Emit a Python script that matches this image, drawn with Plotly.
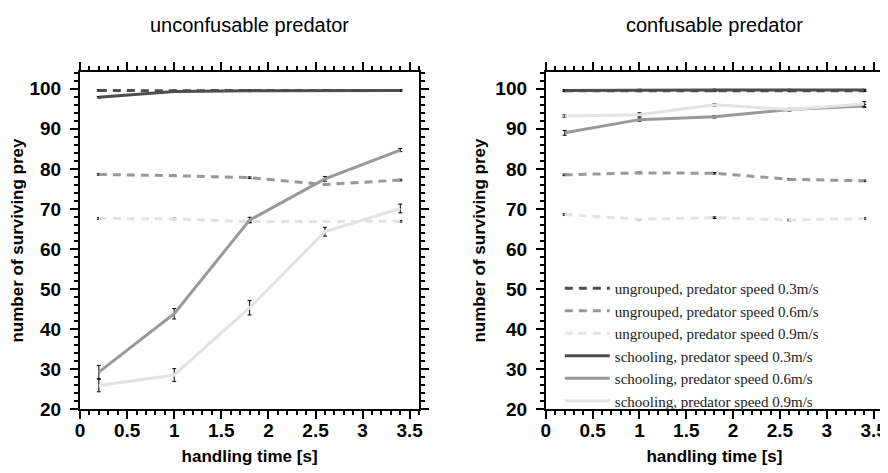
import plotly.graph_objects as go
from plotly.subplots import make_subplots

# handling time [s]
handling = [0.2, 1.0, 1.8, 2.6, 3.4]

# unconfusable predator (left)
unc_ungrouped_03 = [99.6, 99.5, 99.6, 99.6, 99.6]
unc_ungrouped_06 = [78.6, 78.3, 77.8, 76.1, 77.2]
unc_ungrouped_09 = [67.6, 67.5, 66.8, 66.8, 66.9]
unc_school_03 = [97.9, 99.3, 99.5, 99.6, 99.6]
unc_school_06 = [29.2, 43.8, 67.2, 77.5, 84.7]
unc_school_09 = [25.9, 28.5, 45.3, 64.3, 70.1]
unc_err_ungrouped = [0.2, 0.2, 0.2, 0.2, 0.2]
unc_err_school_03 = [0.2, 0.2, 0.2, 0.2, 0.2]
unc_err_school_06 = [1.7, 1.3, 0.7, 0.6, 0.4]
unc_err_school_09 = [1.6, 1.6, 1.8, 1.1, 1.1]

# confusable predator (right)
con_ungrouped_03 = [99.5, 99.5, 99.5, 99.5, 99.5]
con_ungrouped_06 = [78.5, 79.0, 78.9, 77.4, 77.0]
con_ungrouped_09 = [68.6, 67.4, 67.8, 67.2, 67.6]
con_school_03 = [99.6, 99.7, 99.7, 99.7, 99.7]
con_school_06 = [89.0, 92.3, 93.0, 94.8, 95.7]
con_school_09 = [93.2, 93.5, 96.0, 94.8, 96.2]
con_err_ungrouped = [0.2, 0.2, 0.2, 0.2, 0.2]
con_err_school_03 = [0.2, 0.2, 0.2, 0.2, 0.2]
con_err_school_06 = [0.6, 0.4, 0.3, 0.3, 0.4]
con_err_school_09 = [0.3, 0.5, 0.3, 0.3, 0.6]

names = ["ungrouped, predator speed 0.3m/s", "ungrouped, predator speed 0.6m/s",
         "ungrouped, predator speed 0.9m/s", "schooling, predator speed 0.3m/s",
         "schooling, predator speed 0.6m/s", "schooling, predator speed 0.9m/s"]
greys = ["#4d4d4d", "#999999", "#e3e3e3"]

# page body adds 8px offset, so figure is 880x465 and margins are in figure px
W, H = 880, 465
ML, MR, MT, MB = 70, 5, 64, 64
PW, PH = W - ML - MR, H - MT - MB

fig = make_subplots(rows=1, cols=2)

panels = [
    ([unc_ungrouped_03, unc_ungrouped_06, unc_ungrouped_09, unc_school_03, unc_school_06, unc_school_09],
     [unc_err_ungrouped, unc_err_ungrouped, unc_err_ungrouped, unc_err_school_03, unc_err_school_06, unc_err_school_09]),
    ([con_ungrouped_03, con_ungrouped_06, con_ungrouped_09, con_school_03, con_school_06, con_school_09],
     [con_err_ungrouped, con_err_ungrouped, con_err_ungrouped, con_err_school_03, con_err_school_06, con_err_school_09]),
]

for col, (series, errs) in enumerate(panels, start=1):
    for i in range(6):
        dash = "8px,6px" if i < 3 else "solid"
        fig.add_trace(go.Scatter(
            x=handling, y=series[i], name=names[i], mode="lines",
            line=dict(color=greys[i % 3], width=3, dash=dash),
            error_y=dict(type="data", array=errs[i], color="black", thickness=1, width=2),
            showlegend=(col == 2), legendrank=i + 1,
        ), row=1, col=col)

axis_font = dict(family="Liberation Sans", size=17, color="black", weight="bold")
tick_font = dict(family="Liberation Sans", size=19, color="black", weight="bold")
common_x = dict(range=[0, 3.6], tickvals=[0, 0.5, 1, 1.5, 2, 2.5, 3, 3.5],
                ticktext=["0", "0.5", "1", "1.5", "2", "2.5", "3", "3.5"],
                ticks="outside", ticklen=8, tickwidth=2, tickcolor="black",
                minor=dict(dtick=0.1, ticks="outside", ticklen=4, tickwidth=1.5, tickcolor="black"),
                showline=True, linewidth=2, linecolor="black", mirror="allticks",
                showgrid=False, zeroline=False, tickfont=tick_font, automargin="bottom",
                ticklabelstandoff=-5,
                title=dict(text="handling time [s]", font=axis_font, standoff=10))
common_y = dict(range=[20, 104.2], dtick=10, tick0=0,
                ticks="outside", ticklen=8, tickwidth=2, tickcolor="black",
                minor=dict(dtick=2, ticks="outside", ticklen=4, tickwidth=1.5, tickcolor="black"),
                showline=True, linewidth=2, linecolor="black", mirror="allticks",
                showgrid=False, zeroline=False, tickfont=tick_font, automargin="left",
                ticklabelstandoff=5,
                title=dict(text="number of surviving prey", font=axis_font, standoff=5))

fig.update_xaxes(**common_x)
fig.update_yaxes(**common_y)
fig.update_layout(
    xaxis=dict(domain=[0, 340 / PW]),
    xaxis2=dict(domain=[(537 - ML) / PW, 1]),
    yaxis=dict(domain=[0, 1]),
    yaxis2=dict(domain=[0, 1]),
)

for txt, xc in [("unconfusable predator", 240), ("confusable predator", 706)]:
    fig.add_annotation(text=txt, x=(xc - ML) / PW, y=1 + (MT - 17) / PH, xref="paper", yref="paper",
                       showarrow=False, xanchor="center", yanchor="middle",
                       font=dict(family="Liberation Sans", size=20, color="black"))

fig.update_layout(
    width=W, height=H, margin=dict(l=ML, r=MR, t=MT, b=MB),
    plot_bgcolor="white", paper_bgcolor="white",
    font=dict(family="Liberation Sans", color="black"),
    legend=dict(x=(551 - ML) / PW, y=1 - (264 - MT) / PH, xanchor="left", yanchor="top",
                bgcolor="rgba(0,0,0,0)", tracegroupgap=0, itemwidth=45,
                font=dict(family="Liberation Serif", size=15, color="#222222")),
)

fig.write_html("out.html")
